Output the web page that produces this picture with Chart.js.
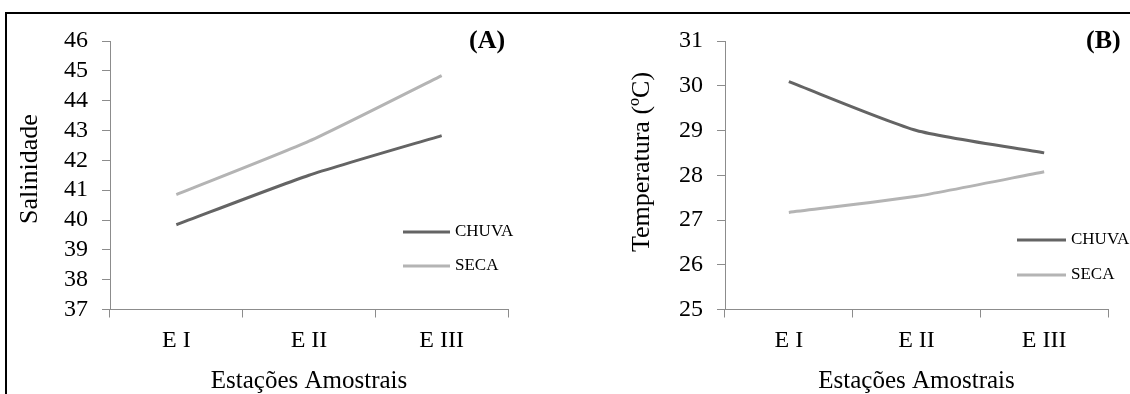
<!DOCTYPE html>
<html>
<head>
<meta charset="utf-8">
<script src="https://cdn.jsdelivr.net/npm/chart.js@4.4.1/dist/chart.umd.min.js"></script>
<style>
    body { margin: 0; background: #fff; width: 1130px; height: 394px; overflow: hidden; position: relative; }
    .frame { position: absolute; left: 5px; top: 12px; right: 0; bottom: 0; border-top: 2px solid #000; border-left: 2px solid #000; }
    .panel { position: absolute; top: 0; height: 394px; }
    .tag { position: absolute; top: 27px; font: bold 26px/26px "Liberation Serif", serif; color: #000; }
</style>
</head>
<body>
<div class="frame"></div>
<div class="panel" style="left:0;width:565px"><canvas id="salChart" width="565" height="394"></canvas></div>
<div class="panel" style="left:615px;width:515px"><canvas id="tempChart" width="515" height="394"></canvas></div>
<div class="tag" style="left:469px">(A)</div>
<div class="tag" style="left:1086px">(B)</div>

<script>
// Sampling stations
const stations = ["E I", "E II", "E III"];

// Salinity per station, rainy and dry season
const salChuva = [39.84, 41.5, 42.83];
const salSeca = [40.85, 42.64, 44.84];
const salRange = [37, 46];

// Temperature (ºC) per station, rainy and dry season
const tempChuva = [30.09, 29.0, 28.5];
const tempSeca = [27.17, 27.53, 28.08];
const tempRange = [25, 31];

const FONT = "'Liberation Serif', 'Times New Roman', serif";
const AXIS_GREY = "#8c8c8c";
const CHUVA_COLOR = "#646464";
const SECA_COLOR = "#b4b4b4";

// Small key drawn inside the plot area (line sample + label per dataset)
const seriesKey = {
    id: "seriesKey",
    afterDatasetsDraw(chart, args, opts) {
        const ctx = chart.ctx;
        ctx.save();
        chart.data.datasets.forEach((ds, i) => {
            const y = opts.top + i * opts.gap;
            ctx.strokeStyle = ds.borderColor;
            ctx.lineWidth = ds.borderWidth;
            ctx.beginPath();
            ctx.moveTo(opts.left, y);
            ctx.lineTo(opts.left + opts.length, y);
            ctx.stroke();
            ctx.fillStyle = "#000";
            ctx.font = "17px " + FONT;
            ctx.textBaseline = "middle";
            ctx.fillText(ds.label, opts.left + opts.length + 5, y);
        });
        ctx.restore();
    }
};

// Rotated y-axis caption, placed a bit above the middle of the axis
const yCaption = {
    id: "yCaption",
    afterDraw(chart, args, opts) {
        const ctx = chart.ctx;
        ctx.save();
        ctx.translate(opts.x, opts.y);
        ctx.rotate(-Math.PI / 2);
        ctx.fillStyle = "#000";
        ctx.font = "26px " + FONT;
        ctx.textAlign = "center";
        ctx.textBaseline = "middle";
        ctx.fillText(opts.text, 0, 0);
        ctx.restore();
    }
};

function buildChart(canvasId, chuva, seca, range, cfg) {
    const ctx = document.getElementById(canvasId).getContext("2d");
    return new Chart(ctx, {
        type: "line",
        data: {
            labels: stations,
            datasets: [
                { label: "CHUVA", data: chuva, borderColor: CHUVA_COLOR, borderWidth: 3, pointRadius: 0, tension: 0.2, fill: false },
                { label: "SECA", data: seca, borderColor: SECA_COLOR, borderWidth: 3, pointRadius: 0, tension: 0.2, fill: false }
            ]
        },
        plugins: [seriesKey, yCaption],
        options: {
            responsive: false,
            animation: false,
            layout: { padding: { left: 0, right: cfg.padRight, top: 41, bottom: 0 } },
            plugins: {
                legend: { display: false },
                tooltip: { enabled: false },
                seriesKey: cfg.key,
                yCaption: cfg.caption
            },
            scales: {
                x: {
                    type: "category",
                    offset: true,
                    grid: { offset: true, drawOnChartArea: false, tickLength: 8, color: AXIS_GREY },
                    border: { color: AXIS_GREY, width: 1 },
                    ticks: { color: "#000", font: { family: FONT, size: 24 }, padding: 9 },
                    title: {
                        display: true,
                        text: "Estações Amostrais",
                        color: "#000",
                        font: { family: FONT, size: 25, lineHeight: 1 },
                        padding: { top: 1, bottom: 0 }
                    },
                    afterFit(scale) { scale.height = 84.5; }
                },
                y: {
                    min: range[0],
                    max: range[1],
                    grid: { drawOnChartArea: false, tickLength: 8, color: AXIS_GREY },
                    border: { color: AXIS_GREY, width: 1 },
                    ticks: { stepSize: 1, autoSkip: false, color: "#000", font: { family: FONT, size: 24 }, padding: 14 },
                    afterFit(scale) { scale.width = 110; }
                }
            }
        }
    });
}

buildChart("salChart", salChuva, salSeca, salRange, {
    padRight: 57,
    key: { left: 403, top: 232, gap: 34, length: 47 },
    caption: { text: "Salinidade", x: 30, y: 169 }
});

buildChart("tempChart", tempChuva, tempSeca, tempRange, {
    padRight: 22,
    key: { left: 402, top: 240, gap: 35, length: 49 },
    caption: { text: "Temperatura (ºC)", x: 27, y: 162 }
});
</script>
</body>
</html>
